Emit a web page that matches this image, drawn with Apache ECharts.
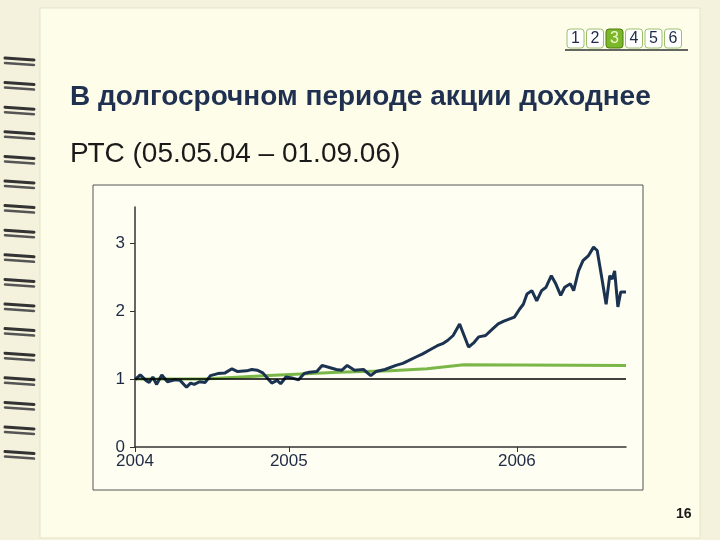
<!DOCTYPE html>
<html><head><meta charset="utf-8">
<script src="https://cdn.jsdelivr.net/npm/echarts@6/dist/echarts.min.js"></script>
<style>html,body{margin:0;padding:0;background:#f4f2dc}#c{width:720px;height:540px}</style>
</head><body><div id="c"></div>
<script>
const titleText = 'В долгосрочном периоде акции доходнее';
const subtitleText = 'РТС (05.05.04 – 01.09.06)';
const yearTicks = [0, 37.9, 94.1];
const yearLabels = ['2004', '2005', '2006'];
const yTicks = [0, 1, 2, 3];
const rtsWeek = [0,1.3,2.7,3.5,4.4,5.3,6.6,8.0,9.8,11.1,12.7,13.7,14.6,15.9,17.3,18.6,20.4,22.2,23.9,25.3,27.5,28.8,30.1,31.5,32.8,33.7,35.0,35.9,37.2,39.0,40.3,41.7,43.0,44.8,46.1,47.9,49.6,51.0,52.3,54.1,56.3,58.1,59.4,61.6,64.3,66.0,67.4,69.1,70.9,72.7,74.5,75.8,77.1,78.4,80.0,81.1,82.2,83.6,84.7,86.4,88.2,89.5,90.9,92.2,93.5,94.8,95.7,96.6,97.8,99.0,100.2,101.3,102.6,103.7,104.9,105.9,107.3,108.1,109.3,110.4,111.7,113.0,113.9,115.0,116.1,117.0,117.6,118.2,119.0,119.7,121];
const rtsValue = [0.99,1.06,0.98,0.95,1.03,0.92,1.06,0.96,0.99,0.98,0.88,0.94,0.92,0.96,0.95,1.05,1.08,1.09,1.15,1.11,1.12,1.14,1.13,1.09,1.00,0.94,0.98,0.93,1.03,1.01,0.99,1.08,1.10,1.11,1.20,1.17,1.14,1.13,1.20,1.13,1.14,1.05,1.11,1.14,1.20,1.23,1.27,1.32,1.37,1.43,1.49,1.52,1.57,1.64,1.81,1.64,1.47,1.54,1.62,1.64,1.74,1.81,1.85,1.88,1.91,2.03,2.10,2.25,2.30,2.15,2.30,2.35,2.52,2.40,2.23,2.35,2.40,2.30,2.59,2.74,2.81,2.94,2.89,2.50,2.10,2.52,2.47,2.59,2.06,2.28,2.28];
const depWeek = [0,17,33,50,63,72,81,121];
const depValue = [1.0,1.0,1.05,1.1,1.12,1.15,1.21,1.2];

const zip = (a,b)=>a.map((x,i)=>[x,b[i]]);
const graphics = [
  {type:'rect',shape:{x:40,y:8,width:660,height:530},style:{fill:'#fdfde9',stroke:'#e6e3c8'},z:-10},
  {type:'rect',shape:{x:93,y:185,width:550,height:305},style:{fill:'#fefef2',stroke:'#555',lineWidth:1},z:-5},
  {type:'text',left:70,top:83,style:{text:titleText,font:'bold 28px "Liberation Sans", Arial',fill:'#1f3050'}},
  {type:'text',left:70,top:140,style:{text:subtitleText,font:'28px "Liberation Sans", Arial',fill:'#1a1a1a'}},
  {type:'text',left:676,top:507,style:{text:'16',font:'bold 14px "Liberation Sans", Arial',fill:'#1a1a1a'}},
  {type:'line',shape:{x1:565,y1:50,x2:688,y2:50},style:{stroke:'#333',lineWidth:1.5}}
];
const pages=['1','2','3','4','5','6'];
pages.forEach((p,i)=>{
  const act = p==='3';
  graphics.push({type:'rect',shape:{x:567+i*19.5,y:29,width:17,height:19,r:3},style:{fill:act?'#7ab82a':'#fff',stroke:act?'#4d7a10':'#9cc06a',lineWidth:1}});
  graphics.push({type:'text',x:575.5+i*19.5,y:38.5,style:{text:p,font:'16px "Liberation Sans", Arial',fill:act?'#f2f7d0':'#1f2a44',align:'center',verticalAlign:'middle'}});
});
for(let k=0;k<17;k++){
  const y=58+k*24.6;
  graphics.push({type:'line',shape:{x1:5,y1:y,x2:34,y2:y+2},style:{stroke:'#333',lineWidth:3,lineCap:'round'}});
  graphics.push({type:'line',shape:{x1:5,y1:y+5,x2:34,y2:y+7},style:{stroke:'#555',lineWidth:2.5,lineCap:'round'}});
}

const chart = echarts.init(document.getElementById('c'));
chart.setOption({
  animation:false,
  graphic:graphics,
  grid:{left:135,top:207,right:94,bottom:93},
  xAxis:{type:'value',min:0,max:121,splitLine:{show:false},
    axisLine:{lineStyle:{color:'#333',width:1.5}},
    axisTick:{show:true,customValues:yearTicks,length:5,lineStyle:{color:'#333'}},
    axisLabel:{customValues:yearTicks,formatter:v=>yearLabels[yearTicks.indexOf(v)]||'',color:'#1f2a44',fontSize:17,fontFamily:'Liberation Sans',margin:6}},
  yAxis:{type:'value',min:0,max:3.53,splitLine:{show:false},
    axisLine:{show:true,lineStyle:{color:'#333',width:1.5}},
    axisTick:{show:true,customValues:yTicks,length:5,lineStyle:{color:'#333'}},
    axisLabel:{customValues:yTicks,formatter:v=>String(v),color:'#1f2a44',fontSize:17,fontFamily:'Liberation Sans',margin:10}},
  series:[
    {type:'line',data:zip(depWeek,depValue),symbol:'none',lineStyle:{color:'#7ab648',width:3},z:2,
      markLine:{silent:true,symbol:'none',label:{show:false},lineStyle:{color:'#000',width:1.5,type:'solid'},data:[{yAxis:1}]}},
    {type:'line',data:zip(rtsWeek,rtsValue),symbol:'none',lineStyle:{color:'#1b3350',width:3},z:3}
  ]
});
</script></body></html>
